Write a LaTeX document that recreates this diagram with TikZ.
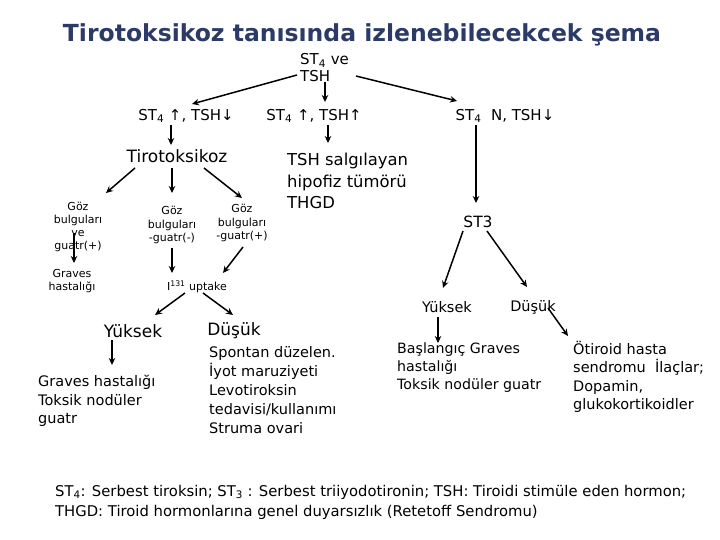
\documentclass[tikz,border=0pt]{standalone}
\usepackage{fontspec}
\setmainfont{DejaVu Sans}
\usetikzlibrary{calc,arrows.meta}
\definecolor{titleblue}{HTML}{2B3A67}
\begin{document}
\begin{tikzpicture}[x=1pt,y=-1pt,
  lab/.style={inner sep=0pt,font=\fontsize{15}{17}\selectfont},
  big/.style={inner sep=0pt,font=\fontsize{17}{21.5}\selectfont},
  small/.style={inner sep=0pt,align=center,font=\fontsize{11}{13.3}\selectfont},
  res/.style={inner sep=0pt,anchor=west,align=left,font=\fontsize{14.5}{18.8}\selectfont},
  arr/.style={line width=1.5pt,-{Stealth[length=7pt,width=6.5pt]}}]
\useasboundingbox (0,0) rectangle (720,540);
\fill[white] (0,0) rectangle (720,540);
\node[inner sep=0pt,text=titleblue,font=\fontsize{23.5}{26}\selectfont\bfseries] (title) at (362,35) {Tirotoksikoz tanısında izlenebilecekcek şema};
\node[lab,anchor=west,align=left] (top) at (300,68) {ST\textsubscript{4} ve\\TSH};
\node[lab] (n1) at (186,116) {ST\textsubscript{4} ↑, TSH↓};
\node[lab] (n2) at (314,116) {ST\textsubscript{4} ↑, TSH↑};
\node[lab] (n3) at (505,116) {ST\textsubscript{4}\ \ N, TSH↓};
\node[big] (tiro) at (177,156) {Tirotoksikoz};
\node[big,anchor=west,align=left,font=\fontsize{16.4}{21.5}\selectfont] (tsh) at (287,181) {TSH salgılayan\\hipofiz tümörü\\THGD};
\node[small] (g1) at (78,227) {Göz\\bulguları\\ve\\guatr(+)};
\node[small] (g2) at (172,225) {Göz\\bulguları\\-guatr(-)};
\node[small] (g3) at (242,223) {Göz\\bulguları\\-guatr(+)};
\node[small] (graves1) at (72,281) {Graves\\hastalığı};
\node[small] (upt) at (197,287) {I\textsuperscript{131} uptake};
\node[lab,font=\fontsize{15.5}{17}\selectfont] (st3) at (478,222) {ST3};
\node[lab,font=\fontsize{14.5}{17}\selectfont] (yk2) at (447,307) {Yüksek};
\node[lab,font=\fontsize{14.5}{17}\selectfont] (dk2) at (533,307) {Düşük};
\node[big] (yk1) at (133,331) {Yüksek};
\node[big] (dk1) at (234,331) {Düşük};
\node[res] (res1) at (38,401) {Graves hastalığı\\Toksik nodüler\\guatr};
\node[res] (res2) at (209,390) {Spontan düzelen.\\İyot maruziyeti\\Levotiroksin\\tedavisi/kullanımı\\Struma ovari};
\node[res,font=\fontsize{14.2}{18}\selectfont] (res3) at (397,368) {Başlangıç Graves\\hastalığı\\Toksik nodüler guatr};
\node[res,font=\fontsize{14.5}{18.5}\selectfont] (res4) at (573,377) {Ötiroid hasta\\sendromu\ \ İlaçlar;\\Dopamin,\\glukokortikoidler};
\node[res,font=\fontsize{14.8}{20}\selectfont] (foot) at (55,502) {ST\textsubscript{4}: Serbest tiroksin; ST\textsubscript{3} : Serbest triiyodotironin; TSH: Tiroidi stimüle eden hormon;\\THGD: Tiroid hormonlarına genel duyarsızlık (Retetoff Sendromu)};
% arrows
\draw[arr] ($(top.west)+(-3,7)$) -- ($(n1)+(6,-12)$);
\draw[arr] ($(top.west)+(25,14)$) -- ($(n2)+(11,-14)$);
\draw[arr] ($(top.west)+(56,8)$) -- ($(n3)+(-48,-15)$);
\draw[arr] ($(n1)+(-15,9)$) -- ($(tiro)+(-6,-11)$);
\draw[arr] ($(n2)+(14,9)$) -- ($(tsh.west)+(41,-38)$);
\draw[arr] ($(n3)+(-29,9)$) -- ($(st3)+(-2,-19)$);
\draw[arr] ($(tiro)+(-42,12)$) -- ($(g1)+(28,-34)$);
\draw[arr] ($(tiro)+(-5,12)$) -- ($(g2)+(0,-32)$);
\draw[arr] ($(tiro)+(27,12)$) -- ($(g3)+(0,-25)$);
\draw[arr] ($(g1)+(-4,6)$) -- ($(graves1)+(2,-18)$);
\draw[arr] ($(g2)+(0,23)$) -- ($(upt)+(-25,-14)$);
\draw[arr] ($(g3)+(1,24)$) -- ($(upt)+(26,-14)$);
\draw[arr] ($(upt)+(-12,6)$) -- ($(yk1)+(22,-16)$);
\draw[arr] ($(upt)+(6,6)$) -- ($(dk1)+(-1,-16)$);
\draw[arr] ($(yk1)+(-21,9)$) -- ($(res1.west)+(74,-36)$);
\draw[arr] ($(st3)+(-15,9)$) -- ($(yk2)+(-4,-19)$);
\draw[arr] ($(st3)+(9,9)$) -- ($(dk2)+(-6,-20)$);
\draw[arr] ($(yk2)+(-9,10)$) -- ($(res3.west)+(41,-25)$);
\draw[arr] ($(dk2)+(15,1)$) -- ($(res4.west)+(-5,-41)$);
\end{tikzpicture}
\end{document}
